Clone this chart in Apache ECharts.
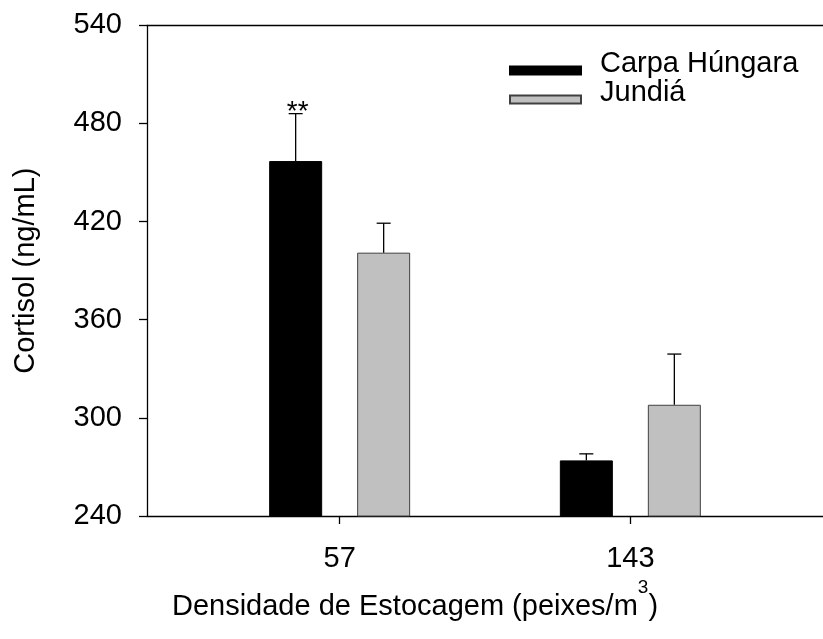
<!DOCTYPE html>
<html>
<head>
<meta charset="utf-8">
<script src="https://cdn.jsdelivr.net/npm/echarts@6/dist/echarts.min.js"></script>
<style>
html,body{margin:0;padding:0;background:#fff;}
#chart{width:823px;height:639px;}
</style>
</head>
<body>
<div id="chart"></div>
<script>
// ---- data ----
const densities = [57, 143];
const carpaValues = [457, 274];
const carpaErrors = [29, 4];
const carpaMarks = ['**', ''];
const jundiaValues = [401, 308];
const jundiaErrors = [18, 31];
const jundiaMarks = ['', ''];
const yMin = 240, yMax = 540, yInterval = 60;
const xMin = 0, xMax = 200;
const seriesNames = ['Carpa Húngara', 'Jundiá'];

// ---- styling constants ----
const FONT = 'Liberation Sans, Arial, Helvetica, sans-serif';
const BAR_W = 53;
const BAR_GAP_PX = 35;
const OFFSET = (BAR_W + BAR_GAP_PX) / 2;

const chart = echarts.init(document.getElementById('chart'), null, {renderer: 'canvas'});

function barData(vals) { return densities.map((d, i) => [d, vals[i]]); }
function errData(vals, errs) { return densities.map((d, i) => [d, vals[i], errs[i]]); }

function errRender(offset, marks) {
  return function (params, api) {
    const x = api.value(0), v = api.value(1), e = api.value(2);
    const mark = marks[params.dataIndex];
    const p0 = api.coord([x, v]);
    const p1 = api.coord([x, v + e]);
    const cx = p0[0] + offset;
    const children = [
      {type: 'line', shape: {x1: cx, y1: p0[1], x2: cx, y2: p1[1]}, style: {stroke: '#000', lineWidth: 1.3}},
      {type: 'line', shape: {x1: cx - 7, y1: p1[1], x2: cx + 7, y2: p1[1]}, style: {stroke: '#000', lineWidth: 1.3}}
    ];
    if (mark) {
      children.push({type: 'text', style: {text: mark, x: cx + 2, y: p1[1] - 1, align: 'center', verticalAlign: 'middle', font: '28px ' + FONT, fill: '#000'}});
    }
    return {type: 'group', children: children};
  };
}

const legendIcon = 'path://M0,0 M0,14 H71 V22 H0 Z';

const option = {
  animation: false,
  backgroundColor: '#fff',
  textStyle: {fontFamily: FONT},
  grid: {left: 147, top: 25.3, right: -5.5, bottom: 123, containLabel: false},
  legend: {
    orient: 'vertical',
    left: 509,
    top: 49,
    padding: 0,
    itemGap: 0,
    itemWidth: 71,
    itemHeight: 22,
    icon: legendIcon,
    data: seriesNames,
    textStyle: {fontFamily: FONT, fontSize: 29, color: '#000', padding: [0, 0, 0, 14]}
  },
  xAxis: [{
    type: 'value',
    min: xMin, max: xMax,
    position: 'bottom',
    splitLine: {show: false},
    axisLine: {show: true, onZero: false, lineStyle: {color: '#000', width: 1.3}},
    axisTick: {show: true, inside: false, length: 8, customValues: densities, lineStyle: {color: '#000', width: 1.3}},
    axisLabel: {show: true, customValues: densities, margin: 28, fontFamily: FONT, fontSize: 29, color: '#000'},
    name: '{t|Densidade de Estocagem (peixes/m}{sup|3}{t|)}',
    nameLocation: 'middle',
    nameGap: 60,
    nameTextStyle: {
      fontFamily: FONT, fontSize: 29, color: '#000', padding: [0, 140, 0, 0],
      rich: {
        t: {fontFamily: FONT, fontSize: 29, color: '#000', lineHeight: 44, verticalAlign: 'bottom'},
        sup: {fontFamily: FONT, fontSize: 19, color: '#000', lineHeight: 19, verticalAlign: 'top'}
      }
    }
  }, {
    type: 'value',
    min: xMin, max: xMax,
    position: 'top',
    splitLine: {show: false},
    axisLine: {show: true, onZero: false, lineStyle: {color: '#000', width: 1.3}},
    axisTick: {show: false},
    axisLabel: {show: false}
  }],
  yAxis: {
    type: 'value',
    min: yMin, max: yMax, interval: yInterval,
    splitLine: {show: false},
    axisLine: {show: true, onZero: false, lineStyle: {color: '#000', width: 1.3}},
    axisTick: {show: true, inside: false, length: 8, lineStyle: {color: '#000', width: 1.3}},
    axisLabel: {margin: 25, fontFamily: FONT, fontSize: 29, color: '#000'},
    name: 'Cortisol (ng/mL)',
    nameLocation: 'middle',
    nameGap: 107,
    nameTextStyle: {fontFamily: FONT, fontSize: 29, color: '#000'}
  },
  series: [
    {
      name: seriesNames[0], type: 'bar', xAxisIndex: 0,
      data: barData(carpaValues),
      barWidth: BAR_W, barGap: (BAR_GAP_PX / BAR_W * 100).toFixed(1) + '%',
      itemStyle: {color: '#000', borderColor: '#000', borderWidth: 1}
    },
    {
      name: seriesNames[1], type: 'bar', xAxisIndex: 0,
      data: barData(jundiaValues),
      barWidth: BAR_W,
      itemStyle: {color: '#c0c0c0', borderColor: '#404040', borderWidth: 1}
    },
    {
      type: 'custom', xAxisIndex: 0, z: 5,
      data: errData(carpaValues, carpaErrors),
      renderItem: errRender(-OFFSET, carpaMarks)
    },
    {
      type: 'custom', xAxisIndex: 0, z: 5,
      data: errData(jundiaValues, jundiaErrors),
      renderItem: errRender(OFFSET, jundiaMarks)
    }
  ]
};
chart.setOption(option);
</script>
</body>
</html>
